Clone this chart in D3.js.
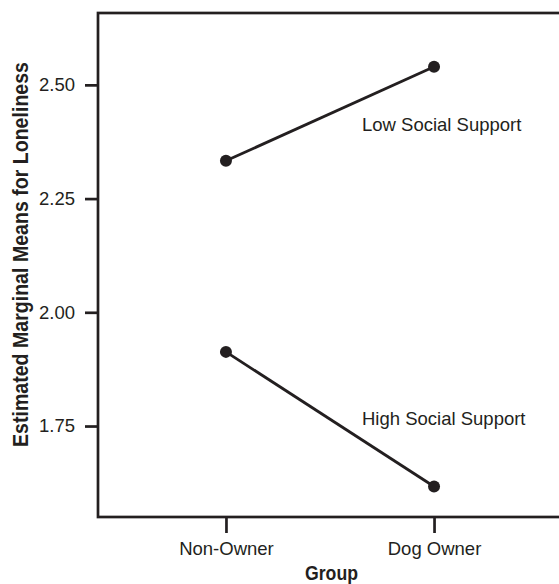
<!DOCTYPE html>
<html>
<head>
<meta charset="utf-8">
<script src="https://cdn.jsdelivr.net/npm/d3@7"></script>
<style>
  body { margin: 0; background: #fff; }
  svg { display: block; }
</style>
</head>
<body>
<div class="plot"></div>
<script>
const groups = ["Non-Owner", "Dog Owner"];
const lowSupport = [2.333, 2.540];
const highSupport = [1.913, 1.617];
const seriesNames = ["Low Social Support", "High Social Support"];
const yTicks = [1.75, 2.00, 2.25, 2.50];

const width = 559;
const height = 584;
const plotLeft = 98, plotTop = 13, plotRight = 562, plotBottom = 517;
const ink = "#231f20";
const font = "Liberation Sans, Arial, Helvetica, sans-serif";

const svg = d3.select('.plot')
    .append('svg')
    .attr('width', width)
    .attr('height', height)

const x = d3.scalePoint()
    .domain(groups)
    .range([plotLeft, plotRight])
    .padding(0.615);

const y = d3.scaleLinear()
    .domain([1.55, 2.658])
    .range([plotBottom, plotTop]);

// frame
svg.append("rect")
    .attr("x", plotLeft)
    .attr("y", plotTop)
    .attr("width", plotRight - plotLeft)
    .attr("height", plotBottom - plotTop)
    .attr("fill", "none")
    .attr("stroke", ink)
    .attr("stroke-width", 2.7)

// y axis
let yAxis = svg.append("g")
    .attr("transform", "translate(" + plotLeft + ",0)")
    .call(d3.axisLeft(y).tickValues(yTicks).tickFormat(d3.format(".2f")).tickSize(13).tickPadding(10))
yAxis.select(".domain").remove()
yAxis.selectAll("line").attr("stroke", ink).attr("stroke-width", 2.7)
yAxis.selectAll("text")
    .attr("font-family", font)
    .attr("font-size", 18.5)
    .attr("fill", ink)

// x axis
let xAxis = svg.append("g")
    .attr("transform", "translate(0," + plotBottom + ")")
    .call(d3.axisBottom(x).tickSize(16).tickPadding(9))
xAxis.select(".domain").remove()
xAxis.selectAll("line").attr("stroke", ink).attr("stroke-width", 2.7)
xAxis.selectAll("text")
    .attr("font-family", font)
    .attr("font-size", 18.5)
    .attr("fill", ink)

// series
const series = [lowSupport, highSupport];
const line = d3.line()
    .x(function(d, i) { return x(groups[i]); })
    .y(function(d) { return y(d); });

series.forEach(function(values) {
    svg.append("path")
        .datum(values)
        .attr("d", line)
        .attr("fill", "none")
        .attr("stroke", ink)
        .attr("stroke-width", 2.8)
    svg.selectAll(null)
        .data(values)
        .enter()
        .append("circle")
        .attr("cx", function(d, i) { return x(groups[i]); })
        .attr("cy", function(d) { return y(d); })
        .attr("r", 6)
        .attr("fill", ink)
})

// series labels
svg.selectAll(".series-label")
    .data(seriesNames)
    .enter()
    .append("text")
    .attr("class", "series-label")
    .text(function(d) { return d; })
    .attr("x", 362)
    .attr("y", function(d, i) { return i == 0 ? 131 : 425; })
    .attr("font-family", font)
    .attr("font-size", 18.5)
    .attr("fill", ink)

// axis titles (condensed bold)
svg.append("text")
    .text("Group")
    .attr("x", 305)
    .attr("y", 580)
    .attr("textLength", 53)
    .attr("lengthAdjust", "spacingAndGlyphs")
    .attr("font-family", font)
    .attr("font-weight", "bold")
    .attr("font-size", 21)
    .attr("fill", ink)

svg.append("text")
    .text("Estimated Marginal Means for Loneliness")
    .attr("transform", "translate(28,447) rotate(-90)")
    .attr("textLength", 385)
    .attr("lengthAdjust", "spacingAndGlyphs")
    .attr("font-family", font)
    .attr("font-weight", "bold")
    .attr("font-size", 22)
    .attr("fill", ink)
</script>
</body>
</html>
